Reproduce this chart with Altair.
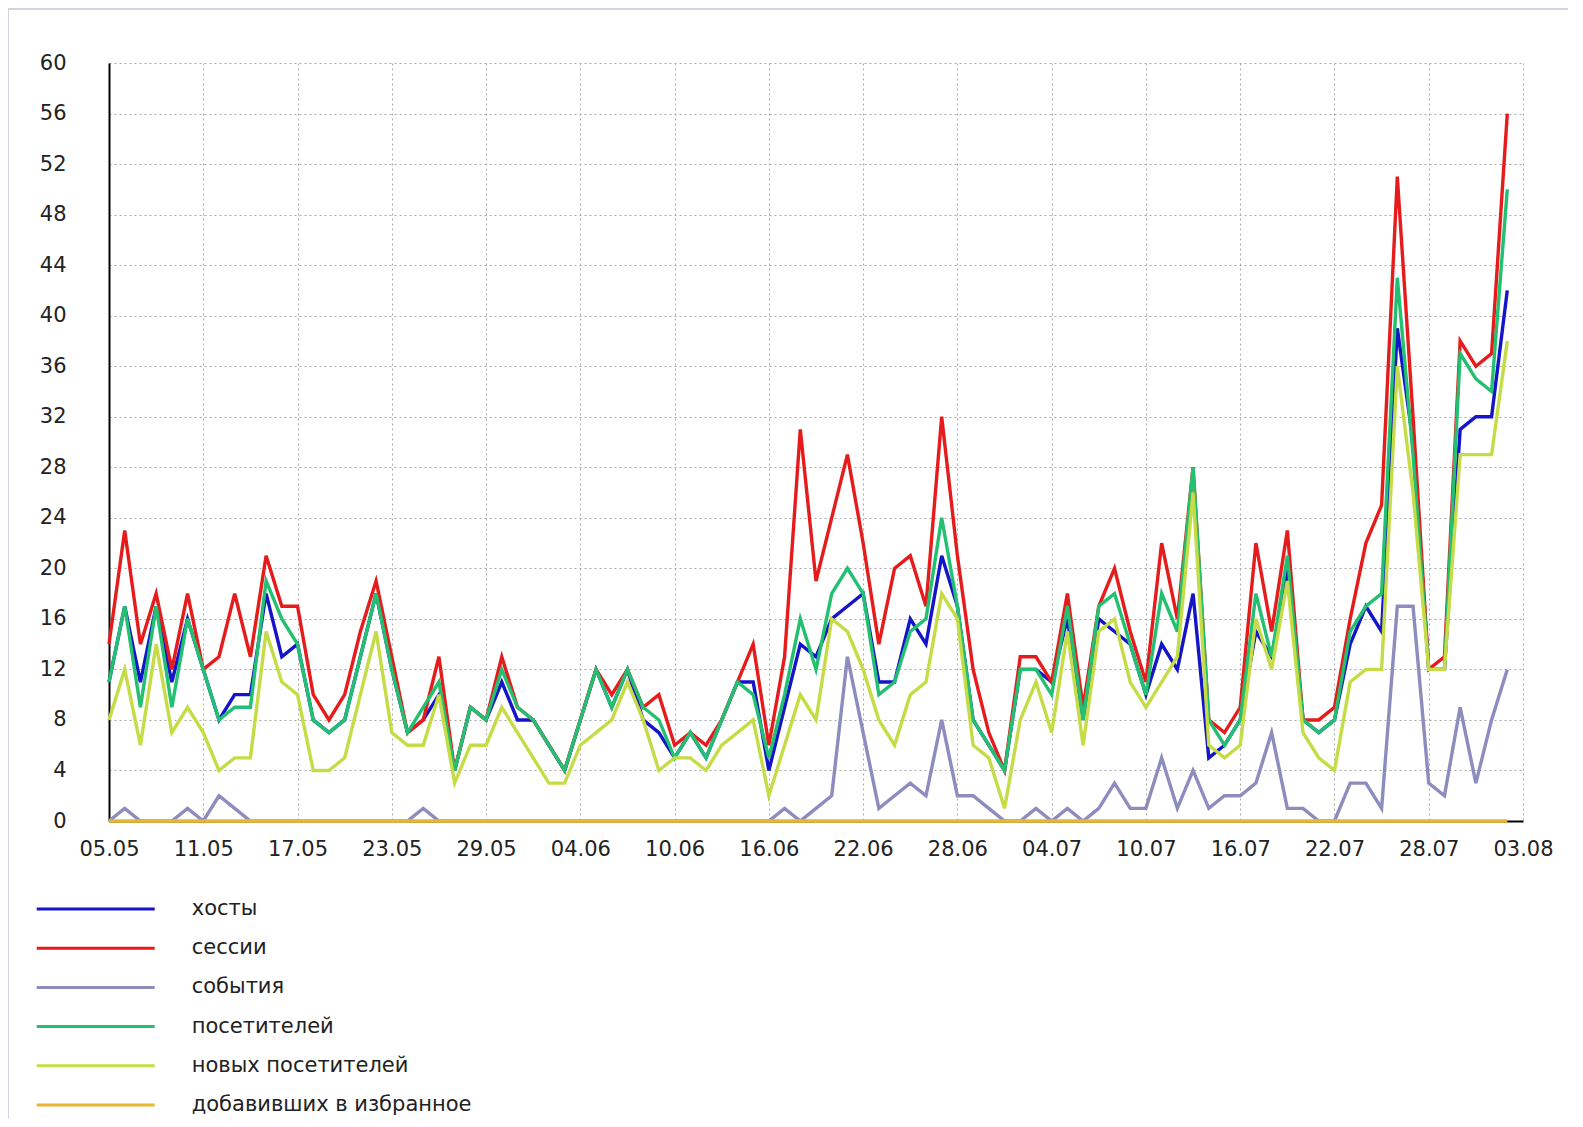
import json
import altair as alt
import pandas as pd

# ---- data ----
tick_labels = ["05.05", "11.05", "17.05", "23.05", "29.05", "04.06", "10.06", "16.06",
               "22.06", "28.06", "04.07", "10.07", "16.07", "22.07", "28.07", "03.08"]

series_names = ["хосты", "сессии", "события", "посетителей",
                "новых посетителей", "добавивших в избранное"]
series_colors = ["#1414c8", "#e61c1c", "#8c8cbe", "#22c070", "#c6dc46", "#eab632"]

hosts = [11, 17, 11, 17, 11, 16, 12, 8, 10, 10,
         18, 13, 14, 8, 7, 8, 13, 18, 12, 7,
         8, 10, 4, 9, 8, 11, 8, 8, 6, 4,
         8, 12, 9, 12, 8, 7, 5, 7, 5, 8,
         11, 11, 4, 9, 14, 13, 16, 17, 18, 11,
         11, 16, 14, 21, 17, 8, 6, 4, 12, 12,
         11, 16, 8, 16, 15, 14, 10, 14, 12, 18,
         5, 6, 8, 15, 13, 20, 8, 7, 8, 14,
         17, 15, 39, 30, 12, 12, 31, 32, 32, 42]

sessions = [14, 23, 14, 18, 12, 18, 12, 13, 18, 13,
            21, 17, 17, 10, 8, 10, 15, 19, 13, 7,
            8, 13, 4, 9, 8, 13, 9, 8, 6, 4,
            8, 12, 10, 12, 9, 10, 6, 7, 6, 8,
            11, 14, 6, 13, 31, 19, 24, 29, 22, 14,
            20, 21, 17, 32, 21, 12, 7, 4, 13, 13,
            11, 18, 9, 17, 20, 15, 11, 22, 16, 28,
            8, 7, 9, 22, 15, 23, 8, 8, 9, 16,
            22, 25, 51, 32, 12, 13, 38, 36, 37, 56]

events = [0, 1, 0, 0, 0, 1, 0, 2, 1, 0,
          0, 0, 0, 0, 0, 0, 0, 0, 0, 0,
          1, 0, 0, 0, 0, 0, 0, 0, 0, 0,
          0, 0, 0, 0, 0, 0, 0, 0, 0, 0,
          0, 0, 0, 1, 0, 1, 2, 13, 7, 1,
          2, 3, 2, 8, 2, 2, 1, 0, 0, 1,
          0, 1, 0, 1, 3, 1, 1, 5, 1, 4,
          1, 2, 2, 3, 7, 1, 1, 0, 0, 3,
          3, 1, 17, 17, 3, 2, 9, 3, 8, 12]

visitors = [11, 17, 9, 17, 9, 16, 12, 8, 9, 9,
            19, 16, 14, 8, 7, 8, 13, 18, 12, 7,
            9, 11, 4, 9, 8, 12, 9, 8, 6, 4,
            8, 12, 9, 12, 9, 8, 5, 7, 5, 8,
            11, 10, 5, 10, 16, 12, 18, 20, 18, 10,
            11, 15, 16, 24, 17, 8, 6, 4, 12, 12,
            10, 17, 8, 17, 18, 14, 10, 18, 15, 28,
            8, 6, 8, 18, 13, 21, 8, 7, 8, 15,
            17, 18, 43, 29, 12, 12, 37, 35, 34, 50]

new_visitors = [8, 12, 6, 14, 7, 9, 7, 4, 5, 5,
                15, 11, 10, 4, 4, 5, 10, 15, 7, 6,
                6, 10, 3, 6, 6, 9, 7, 5, 3, 3,
                6, 7, 8, 11, 8, 4, 5, 5, 4, 6,
                7, 8, 2, 6, 10, 8, 16, 15, 12, 8,
                6, 10, 11, 18, 16, 6, 5, 1, 8, 11,
                7, 15, 6, 15, 16, 11, 9, 11, 13, 26,
                6, 5, 6, 16, 12, 19, 7, 5, 4, 11,
                12, 12, 36, 26, 12, 12, 29, 29, 29, 38]

favorites = [0] * 90

all_series = [hosts, sessions, events, visitors, new_visitors, favorites]

rows = []
for name, vals in zip(series_names, all_series):
    for d, v in enumerate(vals):
        rows.append({"day": d, "series": name, "value": v})
df = pd.DataFrame(rows)

label_expr = json.dumps(tick_labels, ensure_ascii=False) + "[round(datum.value / 6)]"

FONT = "DejaVu Sans"
PLOT_W = 1414
PLOT_H = 758

lines = alt.Chart(df).mark_line(strokeWidth=3.4, strokeJoin="miter").encode(
    x=alt.X("day:Q",
            scale=alt.Scale(domain=[0, 90], nice=False, zero=False),
            axis=alt.Axis(values=list(range(0, 91, 6)), labelExpr=label_expr,
                          title=None, labelPadding=28, labelBaseline="middle",
                          labelFlush=False, labelOverlap=False)),
    y=alt.Y("value:Q",
            scale=alt.Scale(domain=[0, 60], nice=False),
            axis=alt.Axis(values=list(range(0, 61, 4)), title=None,
                          labelPadding=43, labelAlign="right", labelBaseline="middle")),
    color=alt.Color("series:N",
                    scale=alt.Scale(domain=series_names, range=series_colors),
                    sort=series_names,
                    legend=alt.Legend(orient="none", legendX=-73.8, legendY=834,
                                      direction="vertical", title=None,
                                      symbolType="stroke", symbolSize=13924,
                                      symbolStrokeWidth=3, labelFont=FONT,
                                      labelFontSize=21, labelColor="#222222",
                                      labelOffset=35.5, clipHeight=24,
                                      rowPadding=15.2, labelLimit=800)),
)

frame_df = pd.DataFrame({"k": [0]})
frame_top = alt.Chart(frame_df).mark_rule(color="#d0d4de", strokeWidth=2).encode(
    x=alt.value(-101), x2=alt.value(1470), y=alt.value(-54))
frame_left = alt.Chart(frame_df).mark_rule(color="#d0d4de", strokeWidth=2).encode(
    x=alt.value(-101), y=alt.value(-54), y2=alt.value(1060))

chart = alt.layer(frame_top, frame_left, lines).properties(
    width=PLOT_W, height=PLOT_H,
    autosize=alt.AutoSizeParams(type="none"),
    padding={"left": 101, "top": 55, "right": 45, "bottom": 298},
    background="white",
).configure_view(strokeWidth=0).configure_axis(
    grid=True, gridColor="#a8a8a8", gridDash=[2, 3], gridWidth=1,
    domainColor="#000000", domainWidth=2, ticks=False, tickSize=0,
    labelFont=FONT, labelFontSize=21, labelColor="#222222",
)

chart.save("out.html", embed_options={"renderer": "svg", "actions": False})
